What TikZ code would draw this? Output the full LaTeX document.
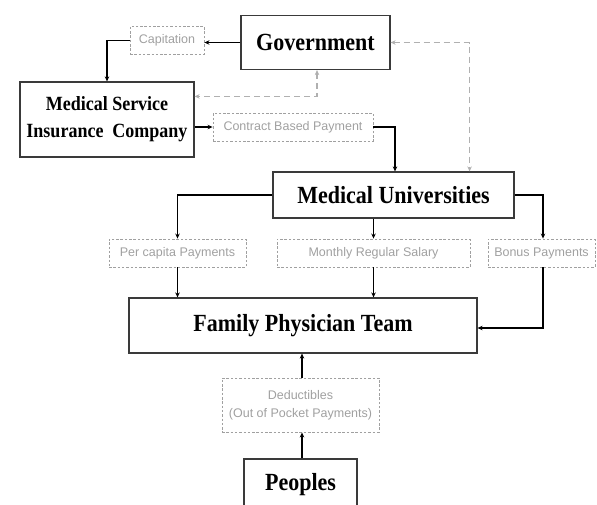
\documentclass[tikz,border=0pt]{standalone}
\usepackage{fontspec}
\setmainfont{Liberation Serif}
\newfontfamily\lsans{Liberation Sans}
\usetikzlibrary{arrows.meta}
\definecolor{boxline}{HTML}{3A3A3A}
\definecolor{lblgray}{HTML}{A0A0A0}
\definecolor{dashgray}{HTML}{B0B0B0}
\newcommand\tallt[1]{\scalebox{1}[1.12]{#1}}
\tikzset{
  mainbox/.style={draw=boxline, line width=1.2pt, fill=white, inner sep=0pt, align=center,
    font=\fontsize{22}{26}\selectfont\bfseries},
  paybox/.style={draw=lblgray, line width=0.9pt, dash pattern=on 2.5pt off 1.8pt, inner sep=0pt,
    minimum height=28, align=center, text=lblgray, font=\lsans\fontsize{12.5}{18}\selectfont},
  conn/.style={line width=1.5pt, -{Stealth[length=5pt,width=4.5pt]}},
  dconn/.style={draw=dashgray, line width=1.2pt, dash pattern=on 6pt off 4pt,
    {Stealth[length=5pt,width=4.5pt]}-{Stealth[length=5pt,width=4.5pt]}}
}
\begin{document}
\begin{tikzpicture}[x=1pt,y=-1pt]
\useasboundingbox (0,0) rectangle (597,504);
% main boxes
\node[mainbox, minimum width=149, minimum height=54] (gov) at (315.5,42.5) {\tallt{Government}};
\node[mainbox, minimum width=174, minimum height=75, font=\fontsize{18}{27}\selectfont\bfseries] (msic) at (107,119.5)
  {\tallt{Medical Service}\\\tallt{Insurance\ \ Company}};
\node[mainbox, minimum width=241, minimum height=46] (mu) at (393.5,195) {\tallt{Medical Universities}};
\node[mainbox, minimum width=348, minimum height=55] (fpt) at (303,325.5) {\tallt{Family Physician Team}};
\node[mainbox, minimum width=113, minimum height=52] (peo) at (300.5,485) {\tallt{Peoples}};
% payment boxes
\node[paybox, minimum width=74] (cap) at (167,40.5) {Capitation};
\node[paybox, minimum width=160] (con) at (293,127) {Contract Based Payment};
\node[paybox, minimum width=137] (pc) at (177.5,253) {Per capita Payments};
\node[paybox, minimum width=193] (mo) at (373.5,253) {Monthly Regular Salary};
\node[paybox, minimum width=107] (bon) at (541.5,253) {Bonus Payments};
\node[paybox, minimum width=157, minimum height=54] (ded) at (300.5,405) {Deductibles\\(Out of Pocket Payments)};
% solid connectors
\draw[conn] (gov.west) -- (cap.east |- gov.west);
\draw[conn] (cap.west) -| (msic.north);
\draw[conn] (msic.east |- con.west) -- (con.west);
\draw[conn] (con.east) -| ([xshift=1.5pt]mu.north);
\draw[conn] (mu.west) -| (pc.north);
\draw[conn] (mu.south -| mo.north) -- (mo.north);
\draw[conn] (mu.east) -| ([xshift=1.5pt]bon.north);
\draw[conn] (pc.south) -- (pc.south |- fpt.north);
\draw[conn] (mo.south) -- (mo.south |- fpt.north);
\draw[conn] ([xshift=1.5pt]bon.south) |- ([yshift=-2.5pt]fpt.east);
\draw[conn] ([xshift=1.5pt]ded.north) -- ([xshift=1.5pt]ded.north |- fpt.south);
\draw[conn] ([xshift=1.5pt]peo.north) -- ([xshift=1.5pt]ded.south);
% dashed connectors
\draw[dconn] ([xshift=1.5pt]gov.south) |- ([yshift=-15pt]msic.north east);
\draw[dconn] (gov.east) -| ([xshift=-45pt]mu.north east);
\end{tikzpicture}
\end{document}
